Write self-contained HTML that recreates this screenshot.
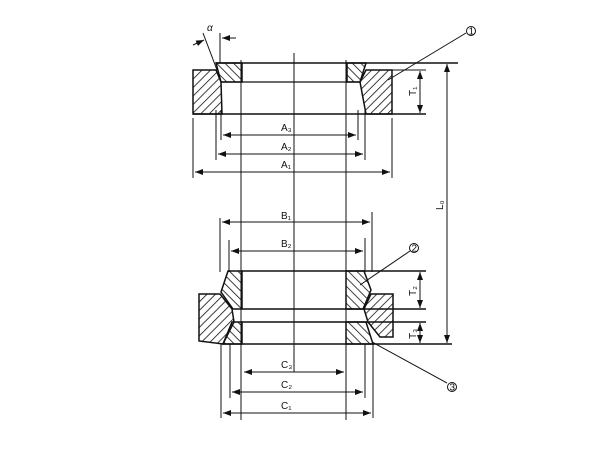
<!DOCTYPE html>
<html><head><style>body{margin:0;background:#fff}svg{display:block}text{font-family:"Liberation Sans",sans-serif;font-size:10px;fill:#111}</style></head><body>
<svg width="615" height="457" viewBox="0 0 615 457" xmlns="http://www.w3.org/2000/svg">
<defs>
<pattern id="hl" patternUnits="userSpaceOnUse" width="6" height="6" patternTransform="rotate(45)"><line x1="0" y1="0" x2="0" y2="6" stroke="#111" stroke-width="1.6"/></pattern>
<pattern id="hr" patternUnits="userSpaceOnUse" width="6" height="6" patternTransform="rotate(-45)"><line x1="0" y1="0" x2="0" y2="6" stroke="#111" stroke-width="1.6"/></pattern>
<marker id="a" markerWidth="8" markerHeight="6" refX="8" refY="3" orient="auto-start-reverse" markerUnits="userSpaceOnUse"><path d="M0,0L8,3L0,6z" fill="#111"/></marker>
</defs>
<g stroke="#111" stroke-width="1" fill="none">
<line x1="294" y1="53" x2="294" y2="372"/>
<line x1="241" y1="60" x2="241" y2="420"/>
<line x1="346" y1="60" x2="346" y2="420"/>
<line x1="216" y1="63" x2="458" y2="63" stroke-width="1.5"/>
<line x1="193" y1="114" x2="426" y2="114" stroke-width="1.5"/>
<line x1="222" y1="82" x2="360" y2="82" stroke-width="1.3"/>
<path d="M193,70 L216,70 L221,82 L222,114 L193,114 Z" fill="url(#hl)" stroke-width="1.5"/>
<path d="M216,63 L242,63 L242,82 L221,82 Z" fill="url(#hr)" stroke-width="1.5"/>
<path d="M347,63 L366,63 L360,82 L347,82 Z" fill="url(#hr)" stroke-width="1.5"/>
<path d="M366,70 L392,70 L392,114 L366,114 L360,82 Z" fill="url(#hl)" stroke-width="1.5"/>
<line x1="392" y1="70" x2="426" y2="70"/>
<line x1="221" y1="110" x2="221" y2="140"/>
<line x1="358" y1="110" x2="358" y2="140"/>
<line x1="216" y1="110" x2="216" y2="160"/>
<line x1="365" y1="110" x2="365" y2="160"/>
<line x1="193" y1="118" x2="193" y2="178"/>
<line x1="392" y1="118" x2="392" y2="178"/>
<line x1="223" y1="135" x2="356" y2="135" marker-start="url(#a)" marker-end="url(#a)"/>
<line x1="218" y1="154" x2="363" y2="154" marker-start="url(#a)" marker-end="url(#a)"/>
<line x1="195" y1="172" x2="390" y2="172" marker-start="url(#a)" marker-end="url(#a)"/>
<line x1="420" y1="71" x2="420" y2="113" marker-start="url(#a)" marker-end="url(#a)"/>
<line x1="447" y1="64" x2="447" y2="343" marker-start="url(#a)" marker-end="url(#a)"/>
<line x1="203" y1="33" x2="217" y2="70"/>
<line x1="220" y1="33" x2="220" y2="63"/>
<line x1="193" y1="45" x2="204" y2="40" marker-end="url(#a)"/>
<line x1="236" y1="38" x2="222" y2="38" marker-end="url(#a)"/>
<line x1="388" y1="80" x2="466" y2="33"/>
<circle cx="471" cy="31" r="4.5"/>
<line x1="220" y1="218" x2="220" y2="272"/>
<line x1="372" y1="212" x2="372" y2="272"/>
<line x1="229" y1="240" x2="229" y2="272"/>
<line x1="365" y1="238" x2="365" y2="272"/>
<line x1="222" y1="222" x2="370" y2="222" marker-start="url(#a)" marker-end="url(#a)"/>
<line x1="231" y1="251" x2="363" y2="251" marker-start="url(#a)" marker-end="url(#a)"/>
<line x1="242" y1="271" x2="426" y2="271" stroke-width="1.4"/>
<line x1="242" y1="309" x2="426" y2="309" stroke-width="1.4"/>
<line x1="242" y1="322" x2="426" y2="322" stroke-width="1.4"/>
<line x1="222" y1="344" x2="452" y2="344" stroke-width="1.5"/>
<path d="M228,271 L242,271 L242,309 L233,309 L221,292 Z" fill="url(#hr)" stroke-width="1.5"/>
<path d="M199,294 L220,294 L232,309 L234,322 L223,344 L199,341 Z" fill="url(#hl)" stroke-width="1.5"/>
<path d="M232,322 L242,322 L242,344 L223,344 Z" fill="url(#hr)" stroke-width="1.5"/>
<path d="M346,271 L364,271 L371,290 L363,309 L346,309 Z" fill="url(#hr)" stroke-width="1.5"/>
<path d="M371,294 L393,294 L393,337 L380,337 L368,322 L364,309 Z" fill="url(#hl)" stroke-width="1.5"/>
<path d="M346,322 L366,322 L373,344 L346,344 Z" fill="url(#hr)" stroke-width="1.5"/>
<line x1="420" y1="272" x2="420" y2="308" marker-start="url(#a)" marker-end="url(#a)"/>
<line x1="420" y1="323" x2="420" y2="343" marker-start="url(#a)" marker-end="url(#a)"/>
<line x1="360" y1="285" x2="410" y2="251"/>
<circle cx="414" cy="248" r="4.5"/>
<line x1="372" y1="342" x2="447" y2="383"/>
<circle cx="452" cy="387" r="4.5"/>
<line x1="221" y1="344" x2="221" y2="418"/>
<line x1="373" y1="344" x2="373" y2="418"/>
<line x1="230" y1="344" x2="230" y2="398"/>
<line x1="365" y1="344" x2="365" y2="398"/>
<line x1="244" y1="372" x2="344" y2="372" marker-start="url(#a)" marker-end="url(#a)"/>
<line x1="232" y1="392" x2="363" y2="392" marker-start="url(#a)" marker-end="url(#a)"/>
<line x1="223" y1="413" x2="371" y2="413" marker-start="url(#a)" marker-end="url(#a)"/>
</g>
<g>
<text x="207" y="31" font-style="italic" font-size="9">α</text>
<text x="281" y="131">A₃</text>
<text x="281" y="150">A₂</text>
<text x="281" y="168">A₁</text>
<text x="281" y="219">B₁</text>
<text x="281" y="247">B₂</text>
<text x="281" y="368">C₃</text>
<text x="281" y="388">C₂</text>
<text x="281" y="409">C₁</text>
<text x="416" y="96" font-size="9" transform="rotate(-90 416 96)">T₁</text>
<text x="416" y="296" font-size="9" transform="rotate(-90 416 296)">T₂</text>
<text x="416" y="339" font-size="9" transform="rotate(-90 416 339)">T₃</text>
<text x="443" y="210" font-size="9" transform="rotate(-90 443 210)">L₀</text>
<text x="468.5" y="34.5" font-size="8">1</text>
<text x="411.5" y="251.5" font-size="8">2</text>
<text x="449.5" y="390.5" font-size="8">3</text>
</g>
</svg>
</body></html>
